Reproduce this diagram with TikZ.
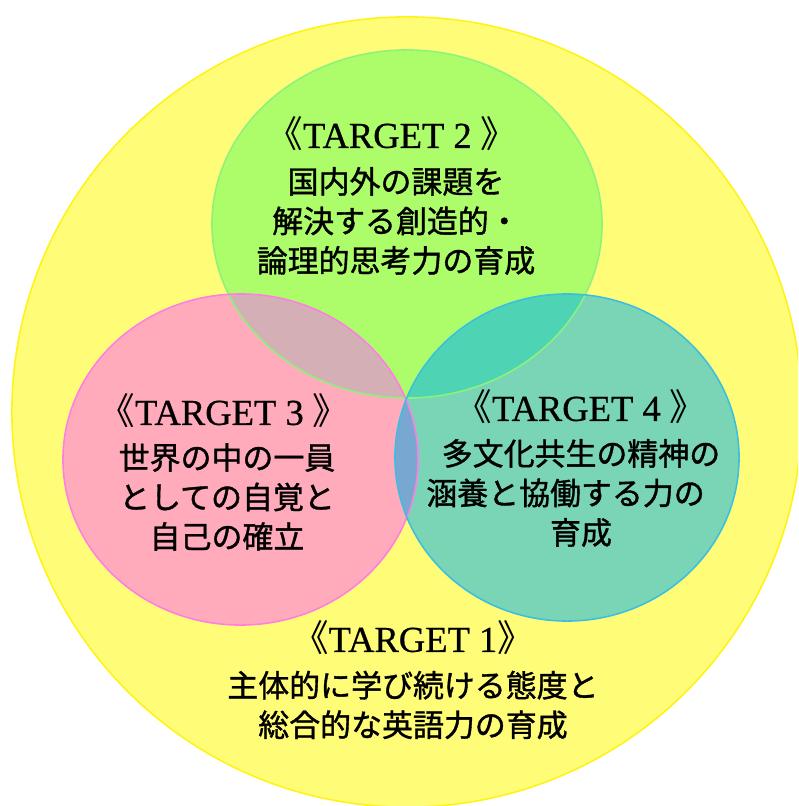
\documentclass[tikz,border=0pt]{standalone}
\usepackage{fontspec}
\setmainfont[FakeBold=0.6]{Liberation Serif}
\newfontfamily\jpfont[FakeBold=1.2]{Noto Sans CJK JP}
\newfontfamily\brfont{Noto Sans CJK JP}
\usepackage{tikz}

\definecolor{yelfill}{RGB}{255,252,120}
\definecolor{yelline}{RGB}{255,243,20}
\definecolor{grnfill}{RGB}{173,253,107}
\definecolor{grnline}{RGB}{140,242,125}
\definecolor{pnkfill}{RGB}{255,171,187}
\definecolor{pnkline}{RGB}{255,125,228}
\definecolor{tealfill}{RGB}{122,213,182}
\definecolor{tealline}{RGB}{58,190,225}
\definecolor{grnpnk}{RGB}{212,176,182}
\definecolor{grnteal}{RGB}{78,212,180}
\definecolor{pnkteal}{RGB}{120,168,210}

\newcommand{\lb}{{\brfont 《}}
\newcommand{\rb}{{\brfont 》}}

\begin{document}
\begin{tikzpicture}[x=0.025cm,y=-0.025cm]
% --- styles ---------------------------------------------------
\tikzstyle{title}=[inner sep=0pt,font=\fontsize{26}{30}\selectfont]
\tikzstyle{desc} =[inner sep=0pt,align=center,font=\jpfont\fontsize{22}{28.1}\selectfont]
\tikzstyle{rim}  =[line width=1.1pt]

\useasboundingbox (0,0) rectangle (798,806);
\clip (0,0) rectangle (798,806);

% --- centres --------------------------------------------------
\coordinate (c1) at (407,412);     % outer circle
\coordinate (c2) at (407,224);     % top ellipse
\coordinate (c3) at (240.5,459.5); % left ellipse
\coordinate (c4) at (567,457.5);   % right ellipse

% --- outer circle ---------------------------------------------
\draw[rim,yelline,fill=yelfill] (c1) circle [radius=9.875cm];

% --- the three ellipses ---------------------------------------
\fill[grnfill]  (c2) ellipse [x radius=4.875cm,y radius=4.35cm];
\fill[pnkfill]  (c3) ellipse [x radius=4.4375cm,y radius=4.1375cm];
\fill[tealfill] (c4) ellipse [x radius=4.3cm,y radius=4.0875cm];

% overlaps
\begin{scope}
  \clip (c2) ellipse [x radius=4.875cm,y radius=4.35cm];
  \fill[grnpnk]  (c3) ellipse [x radius=4.4375cm,y radius=4.1375cm];
  \fill[grnteal] (c4) ellipse [x radius=4.3cm,y radius=4.0875cm];
\end{scope}
\begin{scope}
  \clip (c3) ellipse [x radius=4.4375cm,y radius=4.1375cm];
  \fill[pnkteal] (c4) ellipse [x radius=4.3cm,y radius=4.0875cm];
\end{scope}

% outlines
\draw[rim,grnline]  (c2) ellipse [x radius=4.875cm,y radius=4.35cm];
\draw[rim,pnkline]  (c3) ellipse [x radius=4.4375cm,y radius=4.1375cm];
\draw[rim,tealline] (c4) ellipse [x radius=4.3cm,y radius=4.0875cm];

% --- TARGET 2 -------------------------------------------------
\node[title] (t2) at (392,134) {\lb TARGET 2 \rb};
\node[desc]  (d2) at (396,221) {国内外の課題を\\解決する創造的・\\論理的思考力の育成};

% --- TARGET 3 -------------------------------------------------
\node[title] (t3) at (224,411) {\lb TARGET 3 \rb};
\node[desc]  (d3) at (227,497) {世界の中の一員\\としての自覚と\\自己の確立};

% --- TARGET 4 -------------------------------------------------
\node[title] (t4) at (581,407) {\lb TARGET 4 \rb};
\node[desc]  (d4) at (581,493) {多文化共生の精神の\\涵養と協働する力の\phantom{の}\\育成};

% --- TARGET 1 -------------------------------------------------
\node[title] (t1) at (413,638) {\lb TARGET 1\rb};
\node[desc]  (d1) at (413,705) {主体的に学び続ける態度と\\総合的な英語力の育成};

\end{tikzpicture}
\end{document}
